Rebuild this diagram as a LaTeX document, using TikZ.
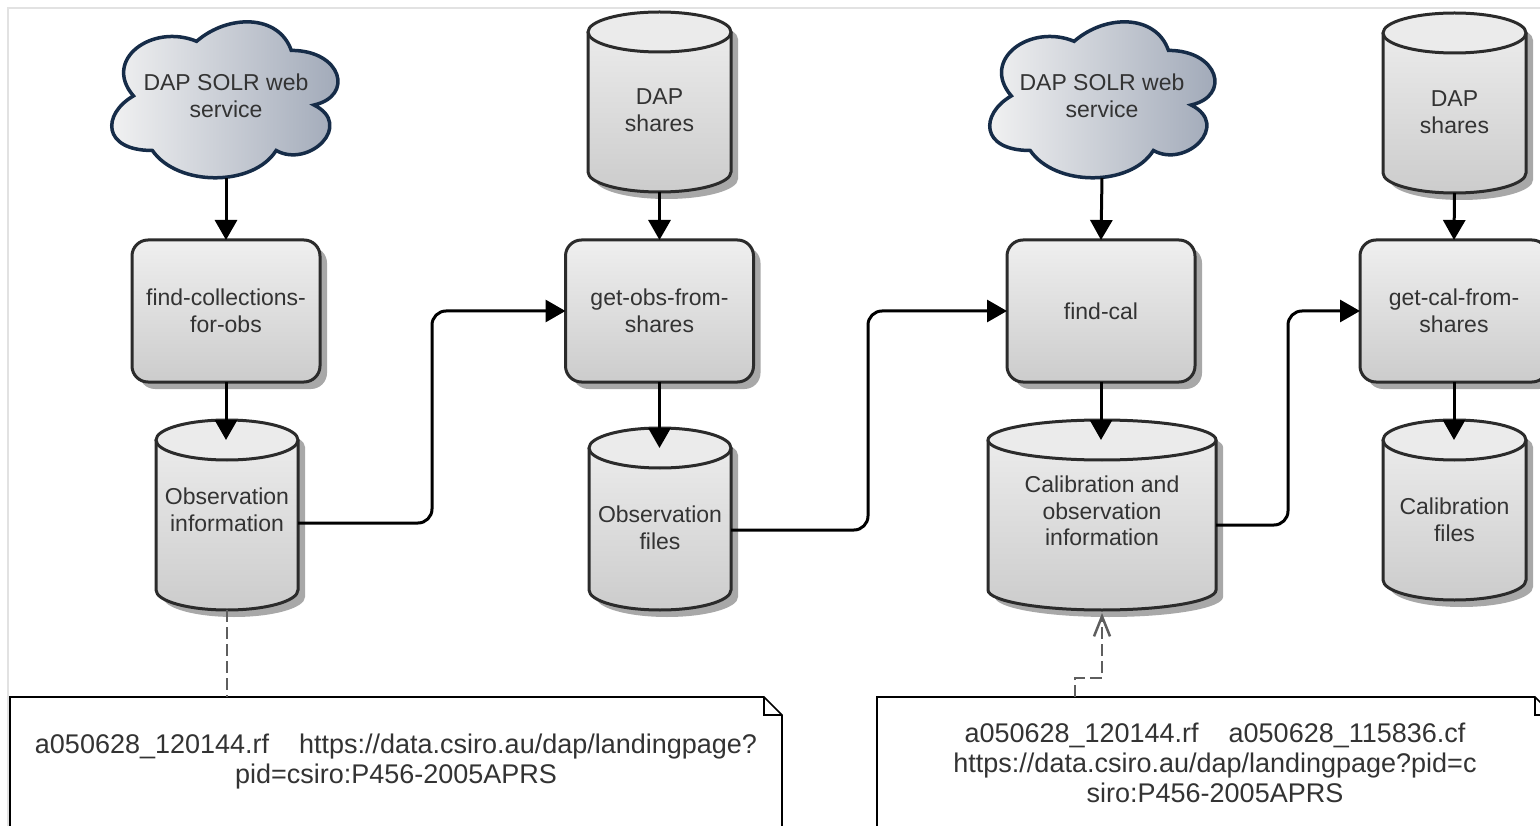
\documentclass[tikz,border=0pt]{standalone}
\usepackage{fontspec}
\setmainfont{Liberation Sans}
\usetikzlibrary{arrows.meta,calc,shadows}

\definecolor{edge}{HTML}{2B2B2B}
\definecolor{txt}{HTML}{333333}
\definecolor{shadowcol}{HTML}{A8A8A8}
\definecolor{filltop}{HTML}{EFEFEF}
\definecolor{fillbot}{HTML}{CCCCCC}
\definecolor{cyltop}{HTML}{EBEBEB}
\definecolor{cloudedge}{HTML}{162C48}
\definecolor{cloudleft}{HTML}{F4F4F4}
\definecolor{cloudright}{HTML}{9CA5B5}
\definecolor{framecol}{HTML}{E2E2E2}
\definecolor{dashcol}{HTML}{5E5E5E}

\tikzset{
  lbl/.style={font=\fontsize{23}{26.5}\selectfont, text=txt, align=center},
  notelbl/.style={font=\fontsize{27}{30}\selectfont, text=txt, align=center, inner sep=0pt, outer sep=0pt},
  procbox/.style={lbl, draw=edge, line width=3pt, rounded corners=16pt,
    minimum width=188pt, minimum height=142pt, inner sep=0pt, outer sep=0pt,
    top color=filltop, bottom color=fillbot,
    drop shadow={shadow xshift=7pt, shadow yshift=-7pt, fill=shadowcol, opacity=1}},
  cylline/.style={draw=edge, line width=3pt},
  cloudline/.style={draw=cloudedge, line width=3.5pt, left color=cloudleft, right color=cloudright},
  flow/.style={line width=3pt, draw=black, -{Triangle[length=20pt,width=22pt]}},
  dashline/.style={draw=dashcol, line width=2.5pt, dash pattern=on 12pt off 5pt},
  noteline/.style={draw=black, line width=1.6pt},
}

% cylinder: name, left x, top y, right x, bottom y, text y, text
\newcommand\dbcyl[7]{%
  \pgfmathsetmacro\cylcx{(#2+#4)/2}%
  \pgfmathsetmacro\cylrx{(#4-#2)/2}%
  \pgfmathsetmacro\cylkx{0.5523*\cylrx}%
  \pgfmathsetmacro\cylyt{#3+20}%
  \pgfmathsetmacro\cylyb{#5-20}%
  \pgfmathsetmacro\cylw{#4-#2}%
  \pgfmathsetmacro\cylh{2*(#5-#6)}%
  \fill[shadowcol, shift={(7,7)}] (#2,\cylyt) -- (#2,\cylyb)
    .. controls (#2,\cylyb+11) and (\cylcx-\cylkx,#5) .. (\cylcx,#5)
    .. controls (\cylcx+\cylkx,#5) and (#4,\cylyb+11) .. (#4,\cylyb) -- (#4,\cylyt)
    .. controls (#4,\cylyt-11) and (\cylcx+\cylkx,#3) .. (\cylcx,#3)
    .. controls (\cylcx-\cylkx,#3) and (#2,\cylyt-11) .. (#2,\cylyt) -- cycle;
  \path[top color=filltop, bottom color=fillbot] (#2,\cylyt) -- (#2,\cylyb)
    .. controls (#2,\cylyb+11) and (\cylcx-\cylkx,#5) .. (\cylcx,#5)
    .. controls (\cylcx+\cylkx,#5) and (#4,\cylyb+11) .. (#4,\cylyb) -- (#4,\cylyt)
    .. controls (#4,\cylyt-11) and (\cylcx+\cylkx,#3) .. (\cylcx,#3)
    .. controls (\cylcx-\cylkx,#3) and (#2,\cylyt-11) .. (#2,\cylyt) -- cycle;
  \draw[cylline] (#2,\cylyt) -- (#2,\cylyb)
    .. controls (#2,\cylyb+11) and (\cylcx-\cylkx,#5) .. (\cylcx,#5)
    .. controls (\cylcx+\cylkx,#5) and (#4,\cylyb+11) .. (#4,\cylyb) -- (#4,\cylyt);
  \filldraw[cylline, fill=cyltop] (\cylcx,\cylyt) ellipse [x radius=\cylrx, y radius=20];
  \node[lbl, minimum width=\cylw pt, minimum height=\cylh pt, inner sep=0pt, outer sep=0pt] (#1) at (\cylcx,#6) {#7};
  \coordinate (#1-top) at (\cylcx,\cylyt);
}

% cloud outline inside the frame: left x, top y, width, height
\newcommand\cloudshape[4]{%
  \begin{scope}[shift={(#1+#3,#2)}, x=-#3pt, y=-#4pt]
    \path[cloudline] (0.25,0.25) .. controls (0.05,0.25) and (0,0.5) .. (0.16,0.55)
      .. controls (0,0.66) and (0.18,0.9) .. (0.31,0.8)
      .. controls (0.4,1) and (0.7,1) .. (0.8,0.8)
      .. controls (1,0.8) and (1,0.6) .. (0.875,0.5)
      .. controls (1,0.3) and (0.8,0.1) .. (0.625,0.2)
      .. controls (0.5,0.05) and (0.3,0.05) .. (0.25,0.25) -- cycle;
  \end{scope}}

\begin{document}
\begin{tikzpicture}[x=1pt, y=-1pt]
\useasboundingbox (0,0) rectangle (1540,826);
\fill[white] (0,0) rectangle (1540,826);
\draw[framecol, line width=2pt] (8,826) -- (8,8) -- (1540,8);

% web services
\cloudshape{101.9}{4.9}{252.5}{182}
\node[lbl, minimum width=226pt, minimum height=164pt, inner sep=0pt, outer sep=0pt] (cloud1) at (226,96) {DAP SOLR web\\service};
\cloudshape{979.9}{4.9}{251.4}{182}
\node[lbl, minimum width=225pt, minimum height=164pt, inner sep=0pt, outer sep=0pt] (cloud2) at (1102,96) {DAP SOLR web\\service};

% processing steps
\node[procbox] (b1) at (226,311) {find-collections-\\for-obs};
\node[procbox] (b2) at (659.5,311) {get-obs-from-\\shares};
\node[procbox] (b3) at (1101,311) {find-cal};
\node[procbox] (b4) at (1454,311) {get-cal-from-\\shares};

% data stores
\dbcyl{dap1}{588}{12}{731}{192}{110}{DAP\\shares}
\dbcyl{dap2}{1383}{13}{1526}{193}{112}{DAP\\shares}
\dbcyl{obsinfo}{156}{420}{298}{610}{510}{Observation\\information}
\dbcyl{obsfiles}{589}{428}{731}{610}{528}{Observation\\files}
\dbcyl{calobs}{988}{420}{1216}{610}{511}{Calibration and\\observation\\information}
\dbcyl{calfiles}{1383}{420}{1526}{600}{520}{Calibration\\files}

% flow
\draw[flow] (cloud1.south) -- (b1.north);
\draw[flow] (dap1.south) -- (b2.north);
\draw[flow] (cloud2.south) -- (b3.north);
\draw[flow] (dap2.south) -- (b4.north);
\draw[flow] (b1.south) -- (b1.south |- obsinfo-top);
\draw[flow] (b2.south) -- (b2.south |- obsfiles-top);
\draw[flow] (b3.south) -- (b3.south |- calobs-top);
\draw[flow] (b4.south) -- (b4.south |- calfiles-top);
\draw[flow, rounded corners=14pt] ([yshift=-13pt]obsinfo.east) -| (432,311) -- (b2.west);
\draw[flow, rounded corners=14pt] ([yshift=-2pt]obsfiles.east) -| (868,311) -- (b3.west);
\draw[flow, rounded corners=14pt] ([yshift=-14pt]calobs.east) -| (1288,311) -- (b4.west);

% notes
\node[notelbl, minimum width=772pt, minimum height=130pt, anchor=north west] (note1) at (10,697)
  {a050628\_120144.rf\hspace{30pt}https://data.csiro.au/dap/landingpage?\\pid=csiro:P456-2005APRS};
\draw[noteline] (note1.south west) -- (note1.north west) -- ([xshift=-18pt]note1.north east)
  -- ([yshift=-18pt]note1.north east) -- (note1.south east);
\draw[noteline] ([xshift=-18pt]note1.north east) -- ([xshift=-18pt,yshift=-18pt]note1.north east)
  -- ([yshift=-18pt]note1.north east);

\node[notelbl, minimum width=676pt, minimum height=132pt, anchor=north west] (note2) at (877,697)
  {a050628\_120144.rf\hspace{30pt}a050628\_115836.cf\\https://data.csiro.au/dap/landingpage?pid=c\\siro:P456-2005APRS};
\draw[noteline] (note2.south west) -- (note2.north west) -- ([xshift=-18pt]note2.north east)
  -- ([yshift=-18pt]note2.north east) -- (note2.south east);
\draw[noteline] ([xshift=-18pt]note2.north east) -- ([xshift=-18pt,yshift=-18pt]note2.north east)
  -- ([yshift=-18pt]note2.north east);

% note links
\draw[dashline] (obsinfo.south) -- (obsinfo.south |- note1.north);
\draw[dashline, -{Straight Barb[length=20pt,width=16pt]}] ([xshift=-140pt]note2.north)
  |- ($(calobs.south)+(0,68)$) -- ([yshift=-3pt]calobs.south);
\end{tikzpicture}
\end{document}
